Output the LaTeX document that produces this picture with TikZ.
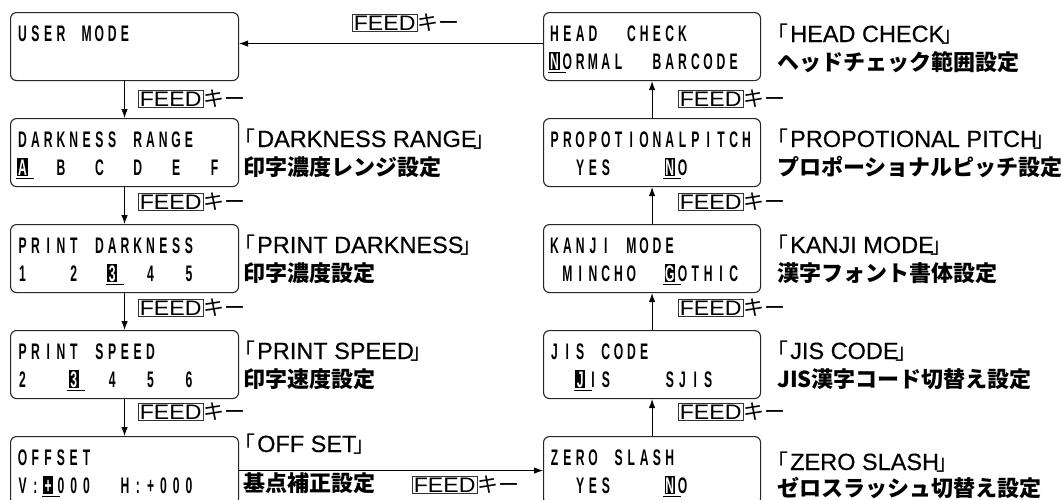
\documentclass[tikz,border=0pt]{standalone}
\usepackage{fontspec}
\usepackage{xcolor}
\setmainfont{Liberation Sans}
\newfontfamily\lcdfont[FakeStretch=0.54]{Liberation Sans Bold}
\newfontfamily\feedfont[FakeStretch=1.1]{Liberation Sans}
\newfontfamily\ttlfont[FakeBold=0.4]{Liberation Sans}
\newfontfamily\jpfont{Noto Sans CJK JP}
\usetikzlibrary{positioning,arrows.meta}

% one display line on a fixed grid, _ = blank cell, [n] = selected cell
\ExplSyntaxOn
\int_new:N \l__lcd_pos_int
\NewDocumentCommand \lcdrow { O{0} m }
  {
    \int_zero:N \l__lcd_pos_int
    \str_map_inline:nn {#2}
      {
        \int_incr:N \l__lcd_pos_int
        \int_compare:nNnTF { \l__lcd_pos_int } = {#1}
          { \lcdsel {##1} }
          {
            \str_if_eq:nnTF {##1} {_}
              { \hbox_to_wd:nn { 12.8pt } { } }
              { \hbox_to_wd:nn { 12.8pt } { \hfil ##1 \hfil } }
          }
      }
  }
\ExplSyntaxOff
\newcommand\lcdsel[1]{\makebox[12.8pt][l]{%
  \rlap{\rule[-4pt]{18pt}{1.3pt}}%
  \rlap{\hspace{1.2pt}\rule[-1pt]{10.4pt}{18pt}}%
  \makebox[12.8pt][c]{\textcolor{white}{#1}}}}
% name of a setting in brackets
\newcommand\kagi[1]{\kern-10pt{\jpfont\fontsize{22}{24}\selectfont「}\kern2pt
  #1\kern-3pt{\jpfont\fontsize{22}{24}\selectfont」}}

\tikzset{
  lcdbox/.style={draw=black!85, line width=1.1pt, rounded corners=6pt,
    minimum width=228pt, minimum height=68pt, anchor=north west, inner sep=0pt},
  lcdboxr/.style={lcdbox, minimum width=217pt},
  lcdtext/.style={anchor=base west, inner sep=0pt,
    font=\lcdfont\fontsize{22.5}{24}\selectfont},
  headline/.style={anchor=base west, inner sep=0pt,
    font=\ttlfont\fontsize{23.5}{26}\selectfont},
  subline/.style={anchor=base west, inner sep=0pt,
    font=\jpfont\bfseries\fontsize{22}{24}\selectfont},
  feed/.style={draw=black!80, line width=0.7pt, inner sep=1.5pt, anchor=west,
    font=\feedfont\fontsize{21}{22}\selectfont},
  keytext/.style={inner sep=0pt, font=\jpfont\fontsize{21}{22}\selectfont},
  flow/.style={line width=0.9pt, -{Latex[length=9pt,width=6.5pt]}}
}

\begin{document}
\begin{tikzpicture}[x=1pt,y=-1pt]
  \useasboundingbox (0,0) rectangle (1063,499);

  % left column
  \node[lcdbox] (user) at (10,12) {};
  \node[lcdbox] (range) at (10,118) {};
  \node[lcdbox] (dark) at (10,224) {};
  \node[lcdbox] (speed) at (10,330) {};
  \node[lcdbox] (offset) at (10,436) {};
  % right column
  \node[lcdboxr] (head) at (543,12) {};
  \node[lcdboxr] (pitch) at (543,118) {};
  \node[lcdboxr] (kanji) at (543,224) {};
  \node[lcdboxr] (jis) at (543,330) {};
  \node[lcdboxr] (zero) at (543,436) {};

  % display texts
  \node[lcdtext] (user-a) at (16,41) {\lcdrow{USER_MODE}};
  \node[lcdtext] (range-a) at (16,147) {\lcdrow{DARKNESS_RANGE}};
  \node[lcdtext] (range-b) at (16,175) {\lcdrow[1]{A__B__C__D__E__F}};
  \node[lcdtext] (dark-a) at (16,253) {\lcdrow{PRINT_DARKNESS}};
  \node[lcdtext] (dark-b) at (16,281) {\lcdrow[8]{1___2__3__4__5}};
  \node[lcdtext] (speed-a) at (16,359) {\lcdrow{PRINT_SPEED}};
  \node[lcdtext] (speed-b) at (16,387) {\lcdrow[5]{2___3__4__5__6}};
  \node[lcdtext] (offset-a) at (16,465) {\lcdrow{OFFSET}};
  \node[lcdtext] (offset-b) at (16,493) {\lcdrow[3]{V:+000__H:+000}};

  \node[lcdtext] (head-a) at (548,41) {\lcdrow{HEAD__CHECK}};
  \node[lcdtext] (head-b) at (548,69) {\lcdrow[1]{NORMAL__BARCODE}};
  \node[lcdtext] (pitch-a) at (548,147) {\lcdrow{PROPOTIONALPITCH}};
  \node[lcdtext] (pitch-b) at (548,175) {\lcdrow[10]{__YES____NO}};
  \node[lcdtext] (kanji-a) at (548,253) {\lcdrow{KANJI_MODE}};
  \node[lcdtext] (kanji-b) at (548,281) {\lcdrow[10]{_MINCHO__GOTHIC}};
  \node[lcdtext] (jis-a) at (548,359) {\lcdrow{JIS_CODE}};
  \node[lcdtext] (jis-b) at (548,387) {\lcdrow[3]{__JIS____SJIS}};
  \node[lcdtext] (zero-a) at (548,465) {\lcdrow{ZERO_SLASH}};
  \node[lcdtext] (zero-b) at (548,493) {\lcdrow[10]{__YES____NO}};

  % setting names
  \node[headline] (range-t) at (243,147) {\kagi{DARKNESS RANGE}};
  \node[subline] (range-s) at (243,175) {印字濃度レンジ設定};
  \node[headline] (dark-t) at (243,253) {\kagi{PRINT DARKNESS}};
  \node[subline] (dark-s) at (243,281) {印字濃度設定};
  \node[headline] (speed-t) at (243,359) {\kagi{PRINT SPEED}};
  \node[subline] (speed-s) at (243,387) {印字速度設定};
  \node[headline] (offset-t) at (243,452) {\kagi{OFF SET}};
  \node[subline] (offset-s) at (243,491) {基点補正設定};

  \node[headline] (head-t) at (776,42) {\kagi{HEAD CHECK}};
  \node[subline] (head-s) at (777,70) {ヘッドチェック範囲設定};
  \node[headline] (pitch-t) at (776,147) {\kagi{PROPOTIONAL PITCH}};
  \node[subline] (pitch-s) at (777,175) {プロポーショナルピッチ設定};
  \node[headline] (kanji-t) at (776,253) {\kagi{KANJI MODE}};
  \node[subline] (kanji-s) at (777,281) {漢字フォント書体設定};
  \node[headline] (jis-t) at (776,359) {\kagi{JIS CODE}};
  \node[subline] (jis-s) at (777,387) {JIS漢字コード切替え設定};
  \node[headline] (zero-t) at (776,470) {\kagi{ZERO SLASH}};
  \node[subline] (zero-s) at (777,496) {ゼロスラッシュ切替え設定};

  % FEED key between the screens
  \draw[flow] (user.south) -- (range.north);
  \draw[flow] (range.south) -- (dark.north);
  \draw[flow] (dark.south) -- (speed.north);
  \draw[flow] (speed.south) -- (offset.north);
  \draw[flow] (offset.east) -- (zero.west);
  \draw[flow] (zero.north) -- (jis.south);
  \draw[flow] (jis.north) -- (kanji.south);
  \draw[flow] (kanji.north) -- (pitch.south);
  \draw[flow] (pitch.north) -- (head.south);
  \draw[flow] ([yshift=3pt]head.west) -- ([yshift=3pt]user.east);

  \node[feed] (f1) at (138,99) {FEED};
  \node[keytext, right=0pt of f1] (k1) {キー};
  \node[feed] (f2) at (138,202) {FEED};
  \node[keytext, right=0pt of f2] (k2) {キー};
  \node[feed] (f3) at (138,308) {FEED};
  \node[keytext, right=0pt of f3] (k3) {キー};
  \node[feed] (f4) at (138,412) {FEED};
  \node[keytext, right=0pt of f4] (k4) {キー};
  \node[feed] (f5) at (412,485) {FEED};
  \node[keytext, right=0pt of f5] (k5) {キー};
  \node[feed] (f6) at (678,412) {FEED};
  \node[keytext, right=0pt of f6] (k6) {キー};
  \node[feed] (f7) at (678,308) {FEED};
  \node[keytext, right=0pt of f7] (k7) {キー};
  \node[feed] (f8) at (678,202) {FEED};
  \node[keytext, right=0pt of f8] (k8) {キー};
  \node[feed] (f9) at (678,99) {FEED};
  \node[keytext, right=0pt of f9] (k9) {キー};
  \node[feed] (f10) at (352,23) {FEED};
  \node[keytext, right=0pt of f10] (k10) {キー};
\end{tikzpicture}
\end{document}
